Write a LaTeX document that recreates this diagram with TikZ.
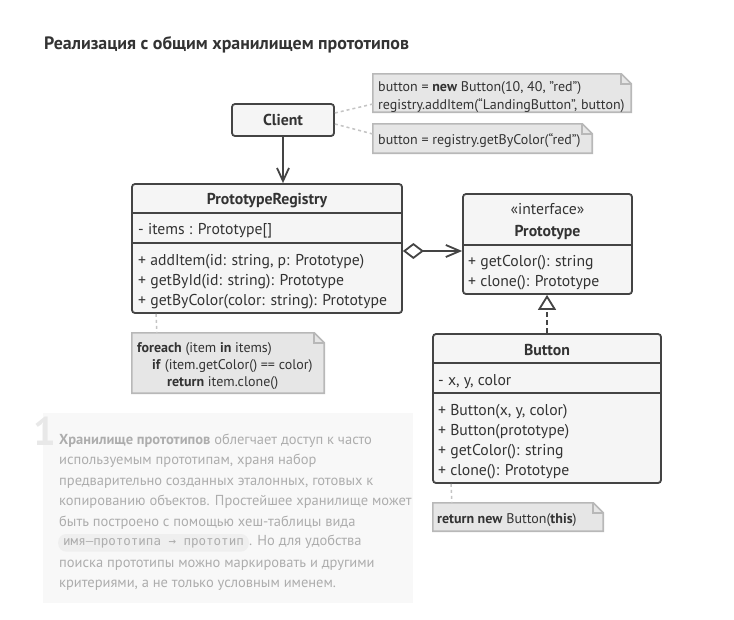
\documentclass[tikz,border=0pt]{standalone}
\usepackage{fontspec}
\setmainfont{PT Sans}
\newfontfamily\codefont{DejaVu Sans Mono}
\usetikzlibrary{arrows.meta}
\definecolor{lineC}{HTML}{444444}
\definecolor{boxF}{HTML}{F5F5F5}
\definecolor{noteF}{HTML}{E6E6E6}
\definecolor{noteB}{HTML}{B8B8B8}
\definecolor{txt}{HTML}{333333}
\definecolor{descT}{HTML}{ADADAD}
\definecolor{descF}{HTML}{F8F8F8}
\definecolor{chipF}{HTML}{EFEFEF}
\definecolor{numC}{HTML}{E8E8E8}
\definecolor{dotC}{HTML}{C4C4C4}
\newcommand\notefold[1]{%
  \draw[noteline, fill=noteF] (#1.north west) -- ([xshift=-10pt]#1.north east) -- ([yshift=-10pt]#1.north east) -- (#1.south east) -- (#1.south west) -- cycle;
  \draw[noteline] ([xshift=-10pt]#1.north east) |- ([yshift=-10pt]#1.north east);}
\begin{document}
\begin{tikzpicture}[x=1pt,y=-1pt,
  umlbox/.style={draw=lineC, fill=boxF, line width=1.8pt, rounded corners=3pt, inner sep=0pt},
  sepline/.style={draw=lineC, line width=1.8pt},
  body/.style={font=\fontsize{15.7}{18}\selectfont, text=txt, inner sep=0pt, anchor=base west},
  head/.style={font=\bfseries\fontsize{15.8}{18}\selectfont, text=txt, inner sep=0pt, anchor=base},
  notebox/.style={inner sep=0pt},
  noteline/.style={draw=noteB, line width=1.6pt},
  notetext/.style={font=\fontsize{14}{16}\selectfont, text=txt, inner sep=0pt, anchor=base west},
  dotline/.style={draw=dotC, line width=1.5pt, dash pattern=on 3pt off 3pt},
  conn/.style={draw=lineC, line width=1.8pt},
  desctext/.style={font=\fontsize{14.5}{18}\selectfont, text=descT, inner sep=0pt, anchor=base west}
]
\useasboundingbox[fill=white] (0,0) rectangle (734,619);

% title
\node[anchor=base west, font=\bfseries\fontsize{17.9}{20}\selectfont, text=txt, inner sep=0pt] (title) at (44,49) {Реализация с общим хранилищем прототипов};

% boxes
\node[umlbox, minimum width=102, minimum height=32] (client) at (283,120) {};
\node[umlbox, minimum width=270, minimum height=129] (reg) at (267,248.5) {};
\node[umlbox, minimum width=169, minimum height=100] (proto) at (547.5,244) {};
\node[umlbox, minimum width=228, minimum height=149] (button) at (547,408.5) {};

% separators
\draw[sepline] ([yshift=-30pt]reg.north west) -- ([yshift=-30pt]reg.north east);
\draw[sepline] ([yshift=-60pt]reg.north west) -- ([yshift=-60pt]reg.north east);
\draw[sepline] ([yshift=-52pt]proto.north west) -- ([yshift=-52pt]proto.north east);
\draw[sepline] ([yshift=-30pt]button.north west) -- ([yshift=-30pt]button.north east);
\draw[sepline] ([yshift=-60pt]button.north west) -- ([yshift=-60pt]button.north east);

% box texts
\node[head] (clientT) at (283,125) {Client};
\node[head] (regT) at (267,204.5) {PrototypeRegistry};
\node[body] (regA) at (138,234.5) {- items : Prototype[]};
\node[body] (regM1) at (138,265) {+ addItem(id: string, p: Prototype)};
\node[body] (regM2) at (138,285) {+ getById(id: string): Prototype};
\node[body] (regM3) at (138,305) {+ getByColor(color: string): Prototype};

\node[body, anchor=base] (protoS) at (547.5,214.5) {«interface»};
\node[head] (protoT) at (547.5,236) {Prototype};
\node[body] (protoM1) at (468,266) {+ getColor(): string};
\node[body] (protoM2) at (468,286) {+ clone(): Prototype};

\node[head] (buttonT) at (547,355) {Button};
\node[body] (buttonA) at (438,385.5) {- x, y, color};
\node[body] (buttonM1) at (438,415.5) {+ Button(x, y, color)};
\node[body] (buttonM2) at (438,435.5) {+ Button(prototype)};
\node[body] (buttonM3) at (438,455.5) {+ getColor(): string};
\node[body] (buttonM4) at (438,475.5) {+ clone(): Prototype};

% notes
\node[notebox, minimum width=258, minimum height=38] (n1) at (502,93) {};
\node[notebox, minimum width=219, minimum height=29] (n2) at (482.5,138.5) {};
\node[notebox, minimum width=192, minimum height=60] (n3) at (228,363) {};
\node[notebox, minimum width=170, minimum height=28] (n4) at (518,517) {};
\notefold{n1}
\notefold{n2}
\notefold{n3}
\notefold{n4}

\node[notetext] (n1a) at (378,91.5) {button = \textbf{new} Button(10, 40, "red")};
\node[notetext] (n1b) at (378,109.5) {registry.addItem(“LandingButton”, button)};
\node[notetext] (n2a) at (378,144.5) {button = registry.getByColor(“red”)};
\node[notetext] (n3a) at (137,352.5) {\textbf{foreach} (item \textbf{in} items)};
\node[notetext] (n3b) at (152,369.5) {\textbf{if} (item.getColor() == color)};
\node[notetext] (n3c) at (167,386.5) {\textbf{return} item.clone()};
\node[notetext] (n4a) at (437,523) {\textbf{return new} Button(\textbf{this})};

% dotted note links
\draw[dotline] ([yshift=7pt]client.east) -- ([yshift=-11pt]n1.west);
\draw[dotline] ([yshift=-4pt]client.east) -- ([yshift=4.5pt]n2.west);
\draw[dotline] ([xshift=25pt]reg.south west) -- ([xshift=25pt]n3.north west);
\draw[dotline] ([xshift=19pt]button.south west) -- ([xshift=19pt]n4.north west);

% connectors
\draw[conn, -{Straight Barb[length=13pt,width=12pt]}] (client.south) -- (client.south |- reg.north);
\coordinate (agg) at ([yshift=-2.5pt]reg.east);
\draw[conn, {Diamond[open,length=21pt,width=16pt,fill=white]}-{Straight Barb[length=14pt,width=12pt]}] (agg) -- (agg -| proto.west);
\draw[conn, dash pattern=on 5pt off 3pt, -{Triangle[open,length=15pt,width=18pt,fill=white]}] (button.north) -- (button.north |- proto.south);

% description
\node[fill=descF, minimum width=370, minimum height=190, inner sep=0pt] (desc) at (228,508) {};
\node[anchor=base west, font=\bfseries\fontsize{40}{40}\selectfont, text=numC, inner sep=0pt] (num) at (33,445) {1};
\node[desctext] (d1) at (59,444) {\textbf{Хранилище прототипов} облегчает доступ к часто};
\node[desctext] (d2) at (59,464.5) {используемым прототипам, храня набор};
\node[desctext] (d3) at (59,485) {предварительно созданных эталонных, готовых к};
\node[desctext] (d4) at (59,505.5) {копированию объектов. Простейшее хранилище может};
\node[desctext] (d5) at (59,526) {быть построено с помощью хеш-таблицы вида};
\node[anchor=base west, fill=chipF, rounded corners=8pt, inner xsep=5pt, inner ysep=4pt, font=\codefont\fontsize{12.5}{14}\selectfont, text=descT] (chip) at (58,545) {имя–прототипа → прототип};
\node[desctext] (d6) at (chip.base east) {. Но для удобства};
\node[desctext] (d7) at (59,567) {поиска прототипы можно маркировать и другими};
\node[desctext] (d8) at (59,587.5) {критериями, а не только условным именем.};
\end{tikzpicture}
\end{document}
